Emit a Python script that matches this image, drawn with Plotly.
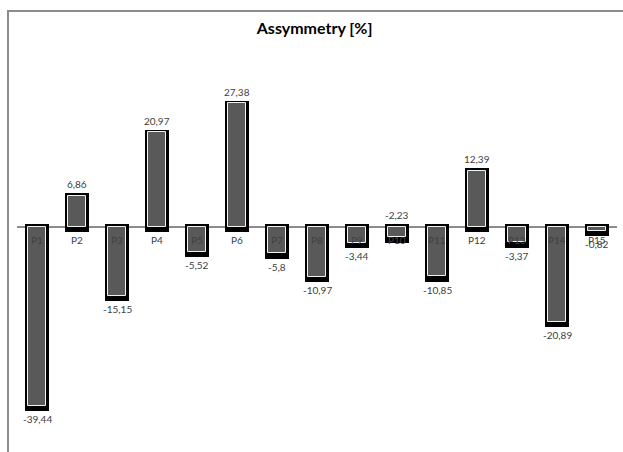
import plotly.graph_objects as go

# Asymmetry per position, in percent
categories = ["P1", "P2", "P3", "P4", "P5", "P6", "P7", "P8",
              "P9", "P10", "P11", "P12", "P13", "P14", "P15"]
asymmetry = [-39.44, 6.86, -15.15, 20.97, -5.52, 27.38, -5.8, -10.97,
             -3.44, -2.23, -10.85, 12.39, -3.37, -20.89, -0.82]
# value labels that sit above the axis even though the value is negative
label_above = ["P10"]

W, H = 623, 452
PLOT_TOP, PLOT_LEFT, PLOT_RIGHT = 40, 17, 6
Y_MAX, Y_MIN = 41.3, -49.7

TEXT = "#404040"
FONT = "Lato, 'Liberation Sans', sans-serif"

# black outline/shadow slightly larger than the bar and pushed downward
pad_top, pad_bot = 0.55, 1.2
sh_base = [min(0, v) - pad_bot for v in asymmetry]
sh_len = [abs(v) + pad_top + pad_bot for v in asymmetry]

fig = go.Figure()
fig.add_trace(go.Bar(
    x=categories, y=sh_len, base=sh_base, width=0.6,
    marker=dict(color="#000000", line=dict(width=0)),
    hoverinfo="skip", showlegend=False,
))
fig.add_trace(go.Bar(
    x=categories, y=asymmetry, width=0.47,
    marker=dict(color="#595959", line=dict(color="#f2f2f2", width=1)),
    showlegend=False,
))

# category names just under the zero line
for c in categories:
    fig.add_annotation(
        x=c, y=0, text=c, showarrow=False, yanchor="middle", yshift=-13,
        font=dict(family=FONT, size=10, color=TEXT),
    )

fmt = lambda v: f"{v:g}".replace(".", ",")
for c, v in zip(categories, asymmetry):
    if v >= 0 or c in label_above:
        y, anchor, shift = max(v, 0) + pad_top, "bottom", 1
    else:
        y, anchor, shift = v - pad_bot, "top", 0
    fig.add_annotation(
        x=c, y=y, text=fmt(v), showarrow=False, yanchor=anchor, yshift=shift,
        font=dict(family=FONT, size=10, color=TEXT),
    )

# outer chart frame
fig.add_shape(type="rect", xref="paper", yref="paper",
              x0=-0.015, x1=1.2, y0=-0.3, y1=1.0704,
              line=dict(color="#8c8c8c", width=2), layer="below")

fig.update_layout(
    width=W, height=H,
    margin=dict(l=PLOT_LEFT, r=PLOT_RIGHT, t=PLOT_TOP, b=0),
    paper_bgcolor="white", plot_bgcolor="white",
    barmode="overlay", bargap=0,
    title=dict(text="<b>Assymmetry [%]</b>", x=0.505, xanchor="center",
               y=1 - 28 / H, yanchor="middle",
               font=dict(family=FONT, size=16, color="#000000")),
    xaxis=dict(range=[-0.5, len(categories) - 0.5], showticklabels=False,
               showgrid=False, zeroline=False, showline=False, ticks=""),
    yaxis=dict(range=[Y_MIN, Y_MAX], showticklabels=False, showgrid=False,
               zeroline=True, zerolinecolor="#8c8c8c", zerolinewidth=2,
               showline=False, ticks=""),
)

fig.write_html("out.html")
